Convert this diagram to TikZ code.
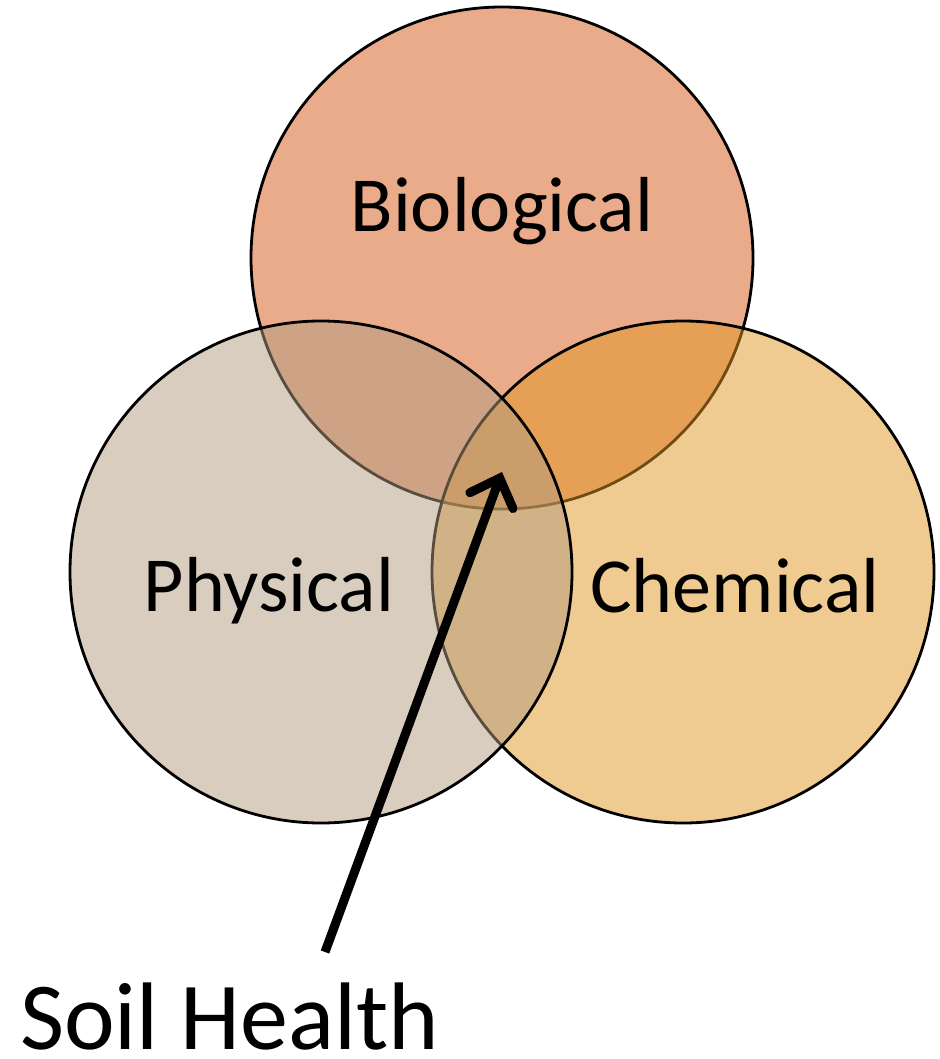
\documentclass[tikz,border=0pt]{standalone}
\usepackage{fontspec}
\setmainfont{Carlito}
\usetikzlibrary{arrows.meta}
\definecolor{bioC}{RGB}{234,171,139}
\definecolor{chemC}{RGB}{225,151,35}
\definecolor{physC}{RGB}{179,155,127}
\tikzset{
  venn/.style={draw=black, line width=2.8pt},
  lbl/.style={font=\fontsize{78}{90}\selectfont, inner sep=0pt, anchor=base},
}
\begin{document}
\begin{tikzpicture}[x=1pt,y=-1pt]
\useasboundingbox (0,0) rectangle (939,1059);
\path[venn, fill=bioC] (502,258) circle[radius=251];
\path[venn, fill=chemC, fill opacity=0.5] (683,572) circle[radius=251];
\path[venn, fill=physC, fill opacity=0.5] (321,572) circle[radius=251];
\node[lbl] (bio) at (502,232) {Biological};
\node[lbl] (phys) at (269,611) {Physical};
\node[lbl] (chem) at (735,612) {Chemical};
\node[font=\fontsize{96}{110}\selectfont, inner sep=0pt, anchor=base west] (soil) at (20,1049) {Soil Health};
\coordinate (tail) at (325,952);
\coordinate (tip) at (502,472);
\draw[line width=9pt, -{Straight Barb[length=24pt, width=46pt, line cap=round]}] (tail) -- (tip);
\end{tikzpicture}
\end{document}
